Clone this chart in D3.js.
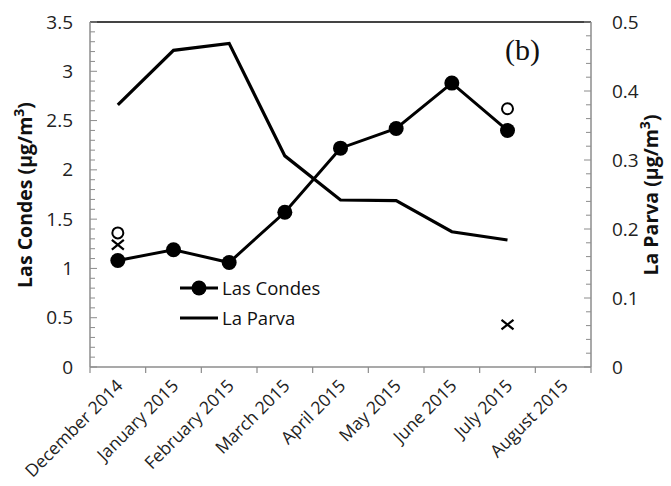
<!DOCTYPE html>
<html><head><meta charset="utf-8">
<script src="https://cdn.jsdelivr.net/npm/d3@7"></script>
<style>body{margin:0;background:#fff}svg{display:block}</style>
</head><body>
<svg id="c" width="671" height="486"></svg>
<script>
const categories = ["December 2014","January 2015","February 2015","March 2015","April 2015","May 2015","June 2015","July 2015","August 2015"];
const lasCondes = [1.08,1.19,1.06,1.57,2.22,2.42,2.88,2.40];
const laParva = [0.380,0.459,0.469,0.306,0.242,0.241,0.196,0.184];
const openCircles = [{cat:"December 2014", v:1.36},{cat:"July 2015", v:2.62}];
const crosses = [{cat:"December 2014", v:1.24},{cat:"July 2015", v:0.43}];
const leftTicks = [0,0.5,1,1.5,2,2.5,3,3.5];
const rightTicks = [0,0.1,0.2,0.3,0.4,0.5];

const svg = d3.select("#c");
const L=90, R=591, T=22, B=367;
const x = d3.scaleBand().domain(categories).range([L,R]).padding(0);
const yL = d3.scaleLinear().domain([0,3.5]).range([B,T]);
const yR = d3.scaleLinear().domain([0,0.5]).range([B,T]);
const cx = c => x(c)+x.bandwidth()/2;
const font = "'Open Sans', sans-serif";
const axisCol = "#8c8c8c";

// top border
svg.append("line").attr("x1",L).attr("x2",R).attr("y1",T).attr("y2",T).attr("stroke","#444").attr("stroke-width",2);

// left axis minor ticks
const leftMinor = d3.range(0,36).map(i=>i/10);
svg.append("g").selectAll("line").data(leftMinor).join("line")
  .attr("x1",L).attr("x2",d=>Math.abs(d*2-Math.round(d*2))<1e-6?L+7:L+5)
  .attr("y1",d=>yL(d)).attr("y2",d=>yL(d)).attr("stroke",axisCol).attr("stroke-width",1);
svg.append("line").attr("x1",L).attr("x2",L).attr("y1",T).attr("y2",B).attr("stroke",axisCol).attr("stroke-width",1.5);
svg.append("g").selectAll("text").data(leftTicks).join("text")
  .attr("x",73).attr("y",d=>yL(d)+6.5).attr("text-anchor","end")
  .attr("font-family",font).attr("font-size",19).attr("fill","#222").text(d=>d);

// right axis
const rightMinor = d3.range(0,26).map(i=>i/50);
svg.append("g").selectAll("line").data(rightMinor).join("line")
  .attr("x1",R).attr("x2",d=>Math.abs(d*10-Math.round(d*10))<1e-6?R-7:R-5)
  .attr("y1",d=>yR(d)).attr("y2",d=>yR(d)).attr("stroke",axisCol).attr("stroke-width",1);
svg.append("line").attr("x1",R).attr("x2",R).attr("y1",T).attr("y2",B).attr("stroke",axisCol).attr("stroke-width",1.5);
svg.append("g").selectAll("text").data(rightTicks).join("text")
  .attr("x",612).attr("y",d=>yR(d)+6.5).attr("text-anchor","start")
  .attr("font-family",font).attr("font-size",19).attr("fill","#222").text(d=>d);

// x axis
svg.append("line").attr("x1",L).attr("x2",R).attr("y1",B).attr("y2",B).attr("stroke",axisCol).attr("stroke-width",1.5);
const xb = categories.map(c=>x(c)).concat([R]);
svg.append("g").selectAll("line").data(xb).join("line")
  .attr("x1",d=>d).attr("x2",d=>d).attr("y1",B).attr("y2",B+6).attr("stroke",axisCol).attr("stroke-width",1.2);
svg.append("g").selectAll("text").data(categories).join("text")
  .attr("transform",d=>`translate(${cx(d)+6},${B+20}) rotate(-45)`)
  .attr("text-anchor","end").attr("font-family",font).attr("font-size",17.5).attr("fill","#222").text(d=>d);

// La Parva line
const lp = categories.slice(0,laParva.length).map((c,i)=>[cx(c),yR(laParva[i])]);
svg.append("path").attr("d",d3.line()(lp)).attr("fill","none").attr("stroke","#000").attr("stroke-width",3.2).attr("stroke-linejoin","miter");

// Las Condes line + markers
const lc = categories.slice(0,lasCondes.length).map((c,i)=>[cx(c),yL(lasCondes[i])]);
svg.append("path").attr("d",d3.line()(lc)).attr("fill","none").attr("stroke","#000").attr("stroke-width",3);
svg.append("g").selectAll("circle").data(lc).join("circle")
  .attr("cx",d=>d[0]).attr("cy",d=>d[1]).attr("r",7.5).attr("fill","#000");

// open circles
svg.append("g").selectAll("circle").data(openCircles).join("circle")
  .attr("cx",d=>cx(d.cat)).attr("cy",d=>yL(d.v)).attr("r",5.5).attr("fill","none").attr("stroke","#000").attr("stroke-width",2);
// crosses
const cs = 6;
svg.append("g").selectAll("path").data(crosses).join("path")
  .attr("d",d=>{const X=cx(d.cat),Y=yL(d.v);return `M${X-cs},${Y-cs*0.8}L${X+cs},${Y+cs*0.8}M${X-cs},${Y+cs*0.8}L${X+cs},${Y-cs*0.8}`;})
  .attr("stroke","#000").attr("stroke-width",2.2).attr("fill","none");

// legend
svg.append("line").attr("x1",180).attr("x2",218).attr("y1",288).attr("y2",288).attr("stroke","#000").attr("stroke-width",3);
svg.append("circle").attr("cx",199).attr("cy",288).attr("r",7.5).attr("fill","#000");
svg.append("text").attr("x",222).attr("y",294.5).attr("font-family",font).attr("font-size",18.5).attr("fill","#111").text("Las Condes");
svg.append("line").attr("x1",180).attr("x2",218).attr("y1",318).attr("y2",318).attr("stroke","#000").attr("stroke-width",3);
svg.append("text").attr("x",222).attr("y",324.5).attr("font-family",font).attr("font-size",18.5).attr("fill","#111").text("La Parva");

// (b)
svg.append("text").attr("x",505).attr("y",60).attr("font-family","'Liberation Serif', serif").attr("font-size",30).attr("fill","#111").text("(b)");

// axis titles
const lt = svg.append("text").attr("transform","translate(32,195) rotate(-90)").attr("text-anchor","middle")
  .attr("font-family",font).attr("font-weight","bold").attr("font-size",19.5).attr("fill","#111");
lt.append("tspan").text("Las Condes (μg/m");
lt.append("tspan").attr("font-size",14).attr("dy",-8).text("3");
lt.append("tspan").attr("dy",8).text(")");
const rt = svg.append("text").attr("transform","translate(658,195) rotate(-90)").attr("text-anchor","middle")
  .attr("font-family",font).attr("font-weight","bold").attr("font-size",19.5).attr("fill","#111");
rt.append("tspan").text("La Parva (μg/m");
rt.append("tspan").attr("font-size",14).attr("dy",-8).text("3");
rt.append("tspan").attr("dy",8).text(")");
</script>
</body></html>
